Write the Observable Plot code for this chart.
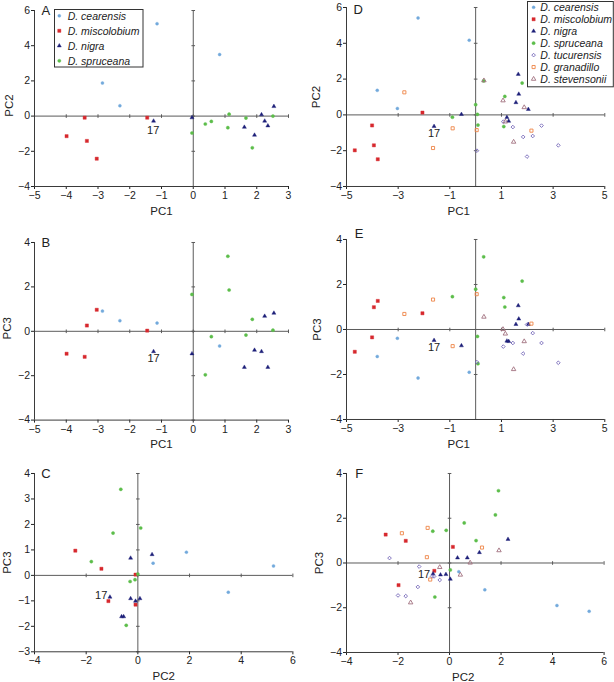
<!DOCTYPE html>
<html>
<head>
<meta charset="utf-8">
<script src="https://cdn.jsdelivr.net/npm/d3@7"></script>
<script src="https://cdn.jsdelivr.net/npm/@observablehq/plot@0.6"></script>
<style>
  body { margin: 0; background: #fff; }
  #root { position: relative; width: 614px; height: 682px; overflow: hidden; background: #fff;
          font-family: "Liberation Sans", Arial, Helvetica, sans-serif; }
  #root svg { position: absolute; overflow: visible; }
</style>
</head>
<body>
<div id="root"></div>
<script>
// ---------- DATA ----------
const species4 = ["D. cearensis", "D. miscolobium", "D. nigra", "D. spruceana"];
const species7 = ["D. cearensis", "D. miscolobium", "D. nigra", "D. spruceana",
                  "D. tucurensis", "D. granadillo", "D. stevensonii"];

// Analysis with 4 species (panels A–C): each row [PC1, PC2, PC3]
const cearensis4   = [[-2.86, 1.88, 0.91], [-2.31, 0.59, 0.48], [-1.14, 5.25, 0.37], [0.83, 3.50, -0.66]];
const miscolobium4 = [[-3.42, -0.09, -1.15], [-1.45, -0.09, 0.03], [-3.99, -1.14, -1.01], [-3.35, -1.41, 0.26], [-3.04, -2.42, 0.97]];
const nigra4       = [[-1.25, -0.28, -0.91], [-0.04, -0.09, -1.01], [1.61, -0.63, -1.62], [1.93, -1.08, -0.85],
                      [2.15, 0.08, -0.91], [2.25, -0.28, 0.68], [2.35, -0.55, -1.62], [2.54, 0.55, 0.82]];
const spruceana4   = [[-0.04, -0.96, 1.66], [0.38, -0.45, -1.96], [0.57, -0.30, -0.24], [1.09, -0.66, 3.38],
                      [1.13, 0.11, 1.86], [1.66, -0.11, -0.17], [1.86, -1.80, 0.54], [2.51, 0.00, 0.05]];

// Analysis with 7 species (panels D–F): each row [PC1, PC2, PC3]
const cearensis7   = [[-2.23, 5.42, -2.16], [-0.25, 4.17, -1.90], [-3.81, 1.37, -1.20], [-3.03, 0.36, -0.39]];
const miscolobium7 = [[-2.06, 0.13, 0.72], [-4.01, -0.59, -0.35], [-3.94, -1.70, 0.99], [-4.68, -1.98, -0.99], [-3.79, -2.48, 1.27]];
const nigra7       = [[-1.61, -0.64, -0.48], [-0.55, 0.03, -0.72], [1.65, 2.27, 1.06], [1.67, 1.16, 0.47],
                      [1.56, 0.69, 0.23], [2.04, 0.31, 0.23], [1.21, -0.14, -0.51], [1.28, -0.35, -0.53]];
const spruceana7   = [[0.31, 1.90, 3.23], [1.80, 1.78, 2.15], [0.00, 0.57, 1.79], [-0.90, -0.13, 1.46],
                      [1.09, -0.65, 1.42], [1.13, 1.03, 1.00], [0.07, 0.03, -0.31], [0.09, -0.57, -1.52]];
const tucurensis7  = [[1.99, -2.33, 0.22], [2.21, -1.18, -0.16], [1.44, -0.68, -0.60], [2.55, -0.60, -0.60],
                      [1.07, -0.38, -0.76], [1.84, -1.23, -1.07], [3.20, -1.70, -1.48], [0.05, -2.00, -1.45]];
const granadillo7  = [[-1.65, -1.85, 1.33], [-2.76, 1.26, 0.69], [-0.89, -0.75, -0.74], [0.04, -0.85, 1.57], [2.16, -0.88, 0.26]];
const stevensonii7 = [[0.32, 1.92, 0.56], [1.06, 0.80, 0.01], [1.88, 0.42, -0.53], [1.47, -1.51, -1.77], [1.15, -0.38, -0.19]];

const pca4 = [cearensis4, miscolobium4, nigra4, spruceana4];
const pca7 = [cearensis7, miscolobium7, nigra7, spruceana7, tucurensis7, granadillo7, stevensonii7];

// tick values
const ticksPC1left  = [-5, -4, -3, -2, -1, 0, 1, 2, 3];
const ticksPC1right = [-5, -3, -1, 1, 3, 5];
const ticksM4to6    = [-4, -2, 0, 2, 4, 6];
const ticksM4to4    = [-4, -2, 0, 2, 4];
const ticksM3to4    = [-3, -2, -1, 0, 1, 2, 3, 4];

// position of the "17" specimen label in each panel
const label17A = [-1.26, -0.81], label17B = [-1.25, -1.21], label17C = [-1.42, -0.79];
const label17D = [-1.61, -1.04], label17E = [-1.61, -0.80], label17F = [-0.99, -0.50];

// ---------- STYLES ----------
const speciesStyle = [
  {symbol: "circle",   color: "#72a9dc", filled: true,  r: 1.5},
  {symbol: "square",   color: "#d7282d", filled: true,  r: 1.8},
  {symbol: "triangle", color: "#1d1f78", filled: true,  r: 1.5},
  {symbol: "circle",   color: "#5cbd4a", filled: true,  r: 1.6},
  {symbol: "diamond2", color: "#7467b8", filled: false, r: 1.65},
  {symbol: "square",   color: "#ee8446", filled: false, r: 1.75},
  {symbol: "triangle", color: "#a2707f", filled: false, r: 1.65}
];
const d3Symbols = {circle: d3.symbolCircle, square: d3.symbolSquare, triangle: d3.symbolTriangle, diamond2: d3.symbolDiamond2};
const FONT = '"Liberation Sans", Arial, Helvetica, sans-serif';
const AXIS = "#3a3a3a";
const ZERO = "#5a5a5a";
const TEXT = "#222";

const hDash = {draw(ctx) { ctx.moveTo(-1.8, 0); ctx.lineTo(1.8, 0); }};
const vDash = {draw(ctx) { ctx.moveTo(0, -1.8); ctx.lineTo(0, 1.8); }};

// ---------- PANELS (layout) ----------
const panels = [
  {letter: "A", data: pca4, names: species4, xi: 0, yi: 1, xDomain: [-5, 3], yDomain: [-4, 6],
   xTicks: ticksPC1left, yTicks: ticksM4to6, xLabel: "PC1", yLabel: "PC2", l17: label17A,
   rect: [34.3, 10, 288.3, 186], letterPos: [11.4, 0], xLabDx: 0, yLabOff: 25, yLabDy: 7,
   legend: {left: 54, top: 9, width: 89.5, height: 58.5, row0: 6.8, step: 15, markX: 5.3, textX: 13.7}},
  {letter: "B", data: pca4, names: species4, xi: 0, yi: 2, xDomain: [-5, 3], yDomain: [-4, 4],
   xTicks: ticksPC1left, yTicks: ticksM4to4, xLabel: "PC1", yLabel: "PC3", l17: label17B,
   rect: [34.3, 241.7, 288.3, 419.3], letterPos: [11.4, 0], xLabDx: 0, yLabOff: 27, yLabDy: -3},
  {letter: "C", data: pca4, names: species4, xi: 1, yi: 2, xDomain: [-4, 6], yDomain: [-3, 4],
   xTicks: ticksM4to6, yTicks: ticksM3to4, xLabel: "PC2", yLabel: "PC3", l17: label17C,
   rect: [34.3, 472.7, 292.7, 651], letterPos: [11.4, 0], xLabDx: 0, yLabOff: 27, yLabDy: 0},
  {letter: "D", data: pca7, names: species7, xi: 0, yi: 1, xDomain: [-5, 5], yDomain: [-4, 6],
   xTicks: ticksPC1right, yTicks: ticksM4to6, xLabel: "PC1", yLabel: "PC2", l17: label17D,
   rect: [345.7, 6.7, 604, 185.7], letterPos: [11.6, 2.5], xLabDx: -17, yLabOff: 30, yLabDy: 0,
   legend: {left: 526.7, top: 1, width: 86.8, height: 86.3, row0: 6.3, step: 11.95, markX: 6.6, textX: 13.3}},
  {letter: "E", data: pca7, names: species7, xi: 0, yi: 2, xDomain: [-5, 5], yDomain: [-4, 4],
   xTicks: ticksPC1right, yTicks: ticksM4to4, xLabel: "PC1", yLabel: "PC3", l17: label17E,
   rect: [345.7, 239.3, 604, 419.3], letterPos: [12.6, -6], xLabDx: -17, yLabOff: 29, yLabDy: 0},
  {letter: "F", data: pca7, names: species7, xi: 1, yi: 2, xDomain: [-4, 6], yDomain: [-4, 4],
   xTicks: ticksM4to6, yTicks: ticksM4to4, xLabel: "PC2", yLabel: "PC3", l17: label17F,
   rect: [345.7, 472.7, 603.3, 651.7], letterPos: [12.6, 0], xLabDx: -12, yLabOff: 27.5, yLabDy: 0}
];

const root = document.getElementById("root");
const fmt = d => (d < 0 ? "\u2212" + Math.abs(d) : String(d));

for (const p of panels) {
  const [x0, y0, x1, y1] = p.rect;
  const ML = 50, MR = 12, MT = 12, MB = 40;
  const marks = [
    Plot.ruleX([0], {stroke: ZERO, strokeWidth: 1}),
    Plot.ruleY([0], {stroke: ZERO, strokeWidth: 1}),
    Plot.dot(p.yTicks.map(t => ({x: 0, y: t})), {x: "x", y: "y", symbol: hDash, stroke: ZERO, fill: "none", strokeWidth: 1}),
    Plot.dot(p.xTicks.map(t => ({x: t, y: 0})), {x: "x", y: "y", symbol: vDash, stroke: ZERO, fill: "none", strokeWidth: 1}),
    Plot.ruleX([p.xDomain[0]], {stroke: AXIS, strokeWidth: 1}),
    Plot.ruleY([p.yDomain[0]], {stroke: AXIS, strokeWidth: 1})
  ];
  p.data.forEach((rows, si) => {
    const st = speciesStyle[si];
    const pts = rows.map(v => ({x: v[p.xi], y: v[p.yi]}));
    marks.push(Plot.dot(pts, {
      x: "x", y: "y", symbol: st.symbol, r: st.r,
      fill: st.filled ? st.color : "none",
      stroke: st.color, strokeWidth: st.filled ? 0.4 : 0.9
    }));
  });
  marks.push(
    Plot.text([p.l17], {x: d => d[0], y: d => d[1], text: () => "17", fontSize: 11, fill: TEXT}),
    Plot.text([p.letter], {frameAnchor: "top-left", dx: p.letterPos[0], dy: p.letterPos[1], text: d => d,
      fontSize: 13, fill: TEXT, textAnchor: "middle", lineAnchor: "middle"}),
    Plot.text([p.xLabel], {frameAnchor: "bottom", dx: p.xLabDx, dy: 24.5, text: d => d,
      fontSize: 11.5, fill: TEXT, textAnchor: "middle", lineAnchor: "middle"}),
    Plot.text([p.yLabel], {frameAnchor: "left", dx: -p.yLabOff, dy: p.yLabDy, rotate: -90, text: d => d,
      fontSize: 11.5, fill: TEXT, textAnchor: "middle", lineAnchor: "middle"})
  );
  const chart = Plot.plot({
    width: (x1 - x0) + ML + MR,
    height: (y1 - y0) + MT + MB,
    marginLeft: ML, marginRight: MR, marginTop: MT, marginBottom: MB,
    style: {fontFamily: FONT, fontSize: "10.5px", color: TEXT, background: "transparent", overflow: "visible"},
    x: {domain: p.xDomain, ticks: p.xTicks, tickFormat: fmt, tickSize: 3, tickPadding: 2, label: null},
    y: {domain: p.yDomain, ticks: p.yTicks, tickFormat: fmt, tickSize: 3, tickPadding: 1.5, label: null},
    marks
  });
  chart.style.position = "absolute";
  chart.style.left = (x0 - ML) + "px";
  chart.style.top = (y0 - MT) + "px";
  chart.style.maxWidth = "none";
  root.appendChild(chart);

  if (p.legend) {
    const L = p.legend;
    const svg = d3.select(root).append("svg")
      .attr("width", L.width).attr("height", L.height)
      .style("left", L.left + "px").style("top", L.top + "px");
    svg.append("rect").attr("x", 0.5).attr("y", 0.5)
      .attr("width", L.width - 1).attr("height", L.height - 1)
      .attr("fill", "#fff").attr("stroke", "#333").attr("stroke-width", 1);
    p.names.forEach((name, i) => {
      const st = speciesStyle[i];
      const cy = L.row0 + i * L.step;
      svg.append("path")
        .attr("transform", `translate(${L.markX},${cy})`)
        .attr("d", d3.symbol(d3Symbols[st.symbol], Math.PI * st.r * st.r)())
        .attr("fill", st.filled ? st.color : "none")
        .attr("stroke", st.color).attr("stroke-width", st.filled ? 0.4 : 0.9);
      svg.append("text")
        .attr("x", L.textX).attr("y", cy).attr("dy", "0.36em")
        .attr("font-family", FONT).attr("font-size", 10.5).attr("font-style", "italic")
        .attr("fill", TEXT)
        .text(name);
    });
  }
}
</script>
</body>
</html>
